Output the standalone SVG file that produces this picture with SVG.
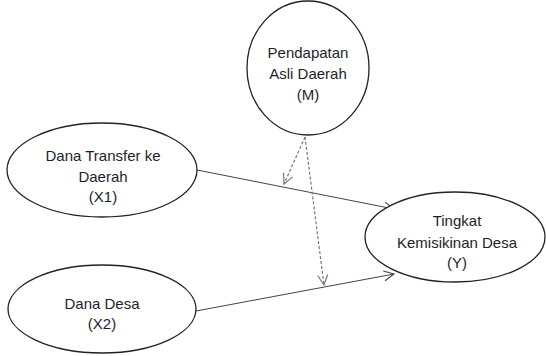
<svg xmlns="http://www.w3.org/2000/svg" width="546" height="356" viewBox="0 0 546 356">
<style>
.node{fill:#fff;stroke:#222;stroke-width:1.3}
.t{font-family:"Liberation Sans",Arial,sans-serif;font-size:15px;fill:#1e1e2a;text-anchor:middle}
.solid{fill:none;stroke:#444;stroke-width:1}
.dash{fill:none;stroke:#777;stroke-width:1.2;stroke-dasharray:3 2}
</style>
<defs>
<marker id="ah" viewBox="0 0 12 12" refX="11" refY="6" markerWidth="12" markerHeight="12" markerUnits="userSpaceOnUse" orient="auto">
<path d="M1,1 L11,6 L1,11" fill="none" stroke="#444" stroke-width="1.1"/>
</marker>
<marker id="ahd" viewBox="0 0 12 12" refX="11" refY="6" markerWidth="12" markerHeight="12" markerUnits="userSpaceOnUse" orient="auto">
<path d="M1,1 L11,6 L1,11" fill="none" stroke="#777" stroke-width="1.2"/>
</marker>
</defs>
<rect width="546" height="356" fill="#fff"/>
<g id="connectors">
<line class="solid" x1="197" y1="170" x2="394" y2="209" marker-end="url(#ah)"/>
<line class="solid" x1="196" y1="311" x2="394" y2="274" marker-end="url(#ah)"/>
<line class="dash" x1="305" y1="137" x2="284" y2="184" marker-end="url(#ahd)"/>
<line class="dash" x1="305" y1="137" x2="324" y2="285" marker-end="url(#ahd)"/>
</g>
<g id="M">
<ellipse class="node" cx="308" cy="68" rx="61" ry="67"/>
<text class="t" x="308" y="58">Pendapatan</text>
<text class="t" x="308" y="79">Asli Daerah</text>
<text class="t" x="308" y="100">(M)</text>
</g>
<g id="X1">
<ellipse class="node" cx="102" cy="170" rx="95" ry="47"/>
<text class="t" x="103" y="161">Dana Transfer ke</text>
<text class="t" x="103" y="182">Daerah</text>
<text class="t" x="103" y="202">(X1)</text>
</g>
<g id="X2">
<ellipse class="node" cx="102" cy="309" rx="94" ry="44"/>
<text class="t" x="102" y="309">Dana Desa</text>
<text class="t" x="102" y="329">(X2)</text>
</g>
<g id="Y">
<ellipse class="node" cx="455" cy="237" rx="90" ry="45"/>
<text class="t" x="457" y="226">Tingkat</text>
<text class="t" x="457" y="248">Kemisikinan Desa</text>
<text class="t" x="457" y="268">(Y)</text>
</g>
</svg>
